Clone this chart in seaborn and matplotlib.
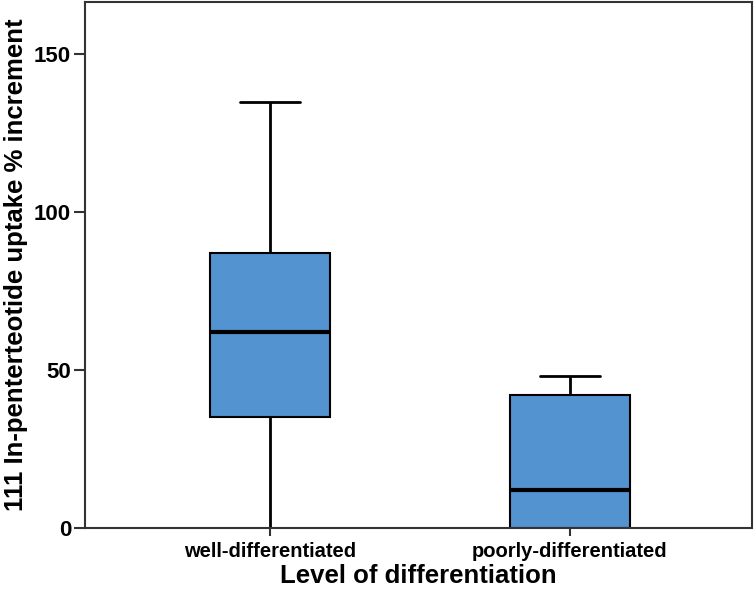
import numpy as np
import pandas as pd
import matplotlib
matplotlib.use("Agg")
import matplotlib.pyplot as plt
import seaborn as sns

# five-number values (min, Q1, median, Q3, max)
well_values = [0, 35, 62, 87, 135]
poorly_values = [0, 0, 12, 42, 48]
categories = ["well-differentiated", "poorly-differentiated"]

BOX_COLOR = "#5393D0"

df = pd.DataFrame({
    "group": [categories[0]] * len(well_values) + [categories[1]] * len(poorly_values),
    "uptake": well_values + poorly_values,
})

sns.set_style("white")
plt.rcParams["font.family"] = ["Liberation Sans", "DejaVu Sans"]
plt.rcParams["text.color"] = "black"
plt.rcParams["axes.labelcolor"] = "black"
plt.rcParams["xtick.color"] = "black"
plt.rcParams["ytick.color"] = "black"

fig = plt.figure(figsize=(7.56, 5.92), dpi=100)
ax = fig.add_axes([0.1124, 0.108, 0.8823, 0.8886])

sns.boxplot(data=df, x="group", y="uptake", order=categories, ax=ax,
            color=BOX_COLOR, saturation=1, width=0.4, whis=1.5,
            linecolor="black", linewidth=1.5, fliersize=0,
            boxprops=dict(edgecolor="black", linewidth=1.5),
            whiskerprops=dict(color="black", linewidth=2),
            capprops=dict(color="black", linewidth=2),
            medianprops=dict(color="black", linewidth=3))

ax.set_xlim(-0.617, 1.607)
ax.set_ylim(0, 166.5)
ax.set_yticks([0, 50, 100, 150])

for side in ax.spines.values():
    side.set_visible(True)
    side.set_color("#333333")
    side.set_linewidth(1.5)

ax.tick_params(axis="y", which="major", left=True, length=8, width=1.5,
               color="#333333", labelsize=16, pad=2)
ax.tick_params(axis="x", which="major", bottom=True, length=6, width=1.5,
               color="#333333", labelsize=14.5, pad=4)
for lab in ax.get_yticklabels() + ax.get_xticklabels():
    lab.set_fontweight("bold")

ax.set_xlabel("Level of differentiation", fontsize=18.5, fontweight="bold", labelpad=2)
ax.set_ylabel("111 In-penterteotide uptake % increment", fontsize=18.5,
              fontweight="bold", labelpad=4)

fig.savefig("out.png", dpi=100)
